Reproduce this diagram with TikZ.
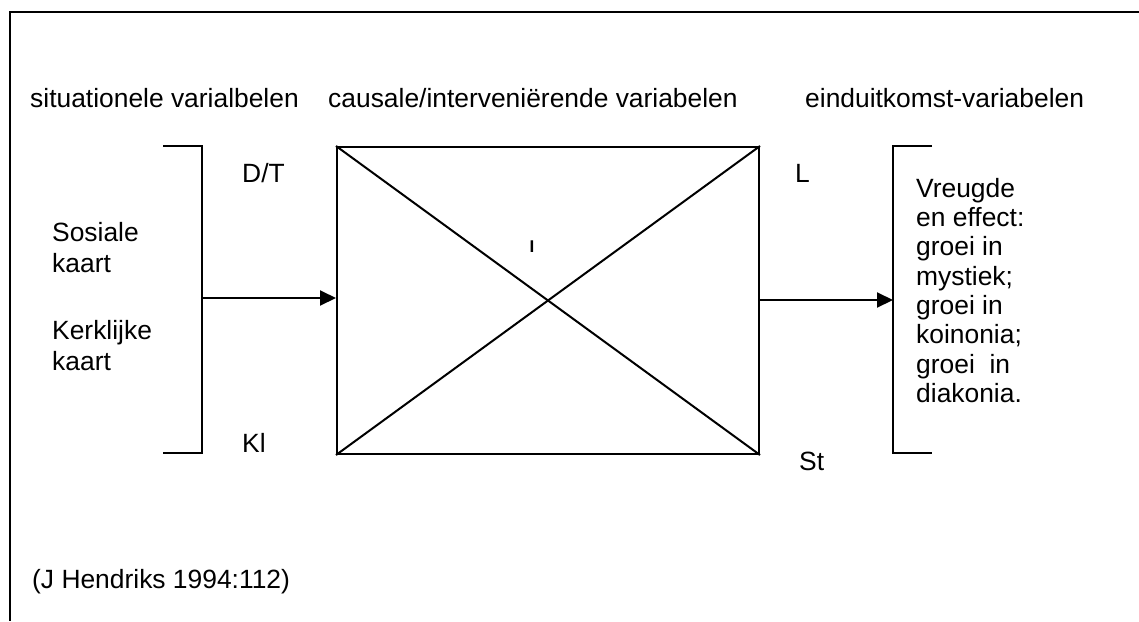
\documentclass[tikz,border=0pt]{standalone}
\usepackage{fontspec}
\setmainfont{Liberation Sans}
\usetikzlibrary{arrows.meta}
\begin{document}
\begin{tikzpicture}[x=1pt,y=-1pt,
  line/.style={line width=2pt},
  lbl/.style={inner sep=0pt,anchor=base west,font=\fontsize{26.4}{31}\selectfont},
  multi/.style={inner sep=0pt,anchor=north west,align=left},
  arr/.style={line width=2pt,-{Triangle[length=16pt,width=15pt]}}]
\useasboundingbox (0,0) rectangle (1139,621);
% frame (top and left only)
\draw[line] (10,12) -- (1139,12);
\draw[line] (10,11) -- (10,621);
% headings
\node[lbl] (h1) at (30,107) {situationele varialbelen};
\node[lbl] (h2) at (328,107) {causale/interveniërende variabelen};
\node[lbl] (h3) at (805,107) {einduitkomst-variabelen};
% central box
\node[draw,line,minimum width=422pt,minimum height=307pt,inner sep=0pt,anchor=north west] (box) at (336,146) {};
\draw[line] (box.north west) -- (box.south east);
\draw[line] (box.south west) -- (box.north east);
\node[inner sep=0pt,anchor=base,font=\fontsize{17}{20}\selectfont\bfseries] (i) at (532,252) {I};
% left bracket
\coordinate (lb1) at (163,146);
\coordinate (lb2) at (202,146);
\coordinate (lb3) at (202,453);
\coordinate (lb4) at (163,453);
\draw[line] (lb1) -- (lb2) -- (lb3) -- (lb4);
\coordinate (la) at (202,298);
% right bracket
\coordinate (rb1) at (932,146);
\coordinate (rb2) at (893,146);
\coordinate (rb3) at (893,453);
\coordinate (rb4) at (932,453);
\draw[line] (rb1) -- (rb2) -- (rb3) -- (rb4);
\coordinate (ra) at (893,300);
% arrows
\draw[arr] (la) -- (la -| box.west);
\draw[arr] (box.east |- ra) -- (ra);
% corner labels
\node[lbl] (dt) at (242,182) {D/T};
\node[lbl] (l) at (795,182) {L};
\node[lbl] (kl) at (242,452) {Kl};
\node[lbl] (st) at (799,470) {St};
% left texts
\node[multi,font=\fontsize{26.4}{31}\selectfont] (sk) at (52,222) {Sosiale\\kaart};
\node[multi,font=\fontsize{26.4}{31}\selectfont] (kk) at (52,320) {Kerklijke\\kaart};
% right text
\node[multi,font=\fontsize{26.4}{29.3}\selectfont] (out) at (916,178) {Vreugde\\en effect:\\groei in\\mystiek;\\groei in\\koinonia;\\groei\ \ in\\diakonia.};
% source
\node[lbl] (src) at (32,588) {(J Hendriks 1994:112)};
\end{tikzpicture}
\end{document}
